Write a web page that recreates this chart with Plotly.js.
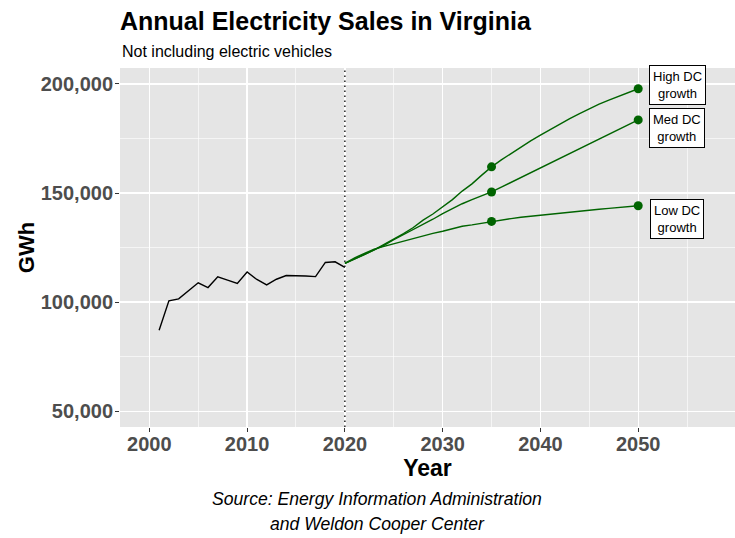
<!DOCTYPE html>
<html>
<head>
<meta charset="utf-8">
<script src="https://cdn.plot.ly/plotly-3.0.1.min.js"></script>
<style>
  html, body { margin: 0; padding: 0; background: #ffffff; }
  #chart { width: 735px; height: 538px; }
</style>
</head>
<body>
<div id="chart"></div>
<script>
// Historical sales (GWh)
const histYears = [2001, 2002, 2003, 2004, 2005, 2006, 2007, 2008, 2009, 2010,
                   2011, 2012, 2013, 2014, 2015, 2016, 2017, 2018, 2019, 2020];
const histSales = [87100, 100600, 101500, 105200, 108900, 106700, 111600, 110100, 108600, 113800,
                   110400, 107900, 110500, 112200, 112200, 112000, 111700, 118200, 118500, 115900];

// Projection years
const projYears = [2020, 2021, 2022, 2023, 2024, 2025, 2026, 2027, 2028, 2029,
                   2030, 2031, 2032, 2033, 2034, 2035, 2036, 2037, 2038, 2039,
                   2040, 2041, 2042, 2043, 2044, 2045, 2046, 2047, 2048, 2049, 2050];
const highDC = [117800, 119700, 121800, 124000, 126500, 128800, 131400, 134200, 137600, 140400,
                143600, 147000, 150900, 154200, 158200, 162000, 165200, 168200, 171100, 173900,
                176500, 179100, 181600, 184100, 186400, 188700, 190700, 192600, 194400, 196100, 197800];
const medDC  = [117800, 119800, 121800, 123800, 126000, 128600, 130900, 133100, 135600, 138000,
                140600, 142900, 145100, 147000, 148800, 150500, 152700, 154900, 157100, 159300,
                161400, 163600, 165800, 168000, 170200, 172400, 174600, 176800, 179100, 181300, 183500];
const lowDC  = [117800, 120300, 122400, 124300, 125600, 126800, 128000, 129200, 130600, 131500,
                132500, 133600, 134800, 135400, 136200, 137000, 137600, 138300, 138900, 139400,
                139900, 140400, 140900, 141400, 141800, 142200, 142600, 143000, 143400, 143800, 144200];

// Marker points (2035 and 2050)
const markerYears = [2035, 2050];
const highMarkers = [162000, 197800];
const medMarkers  = [150500, 183500];
const lowMarkers  = [137000, 144200];

const scenarioLabels = ["High DC<br>growth", "Med DC<br>growth", "Low DC<br>growth"];

const green = "#006400";
const font = "Liberation Sans, Arial, Helvetica, sans-serif";

const traces = [
  { x: histYears, y: histSales, type: "scatter", mode: "lines",
    line: { color: "#000000", width: 1.4 } },
  { x: projYears, y: highDC, type: "scatter", mode: "lines",
    line: { color: green, width: 1.4 } },
  { x: projYears, y: medDC, type: "scatter", mode: "lines",
    line: { color: green, width: 1.4 } },
  { x: projYears, y: lowDC, type: "scatter", mode: "lines",
    line: { color: green, width: 1.4 } },
  { x: markerYears, y: highMarkers, type: "scatter", mode: "markers",
    marker: { color: green, size: 9 } },
  { x: markerYears, y: medMarkers, type: "scatter", mode: "markers",
    marker: { color: green, size: 9 } },
  { x: markerYears, y: lowMarkers, type: "scatter", mode: "markers",
    marker: { color: green, size: 9 } }
];

const labelY = [199500, 179800, 138000];
const labelAnn = scenarioLabels.map((t, i) => ({
  x: 2054.0, y: labelY[i], xref: "x", yref: "y",
  text: t, showarrow: false,
  font: { family: font, size: 13, color: "#000000" },
  bgcolor: "#ffffff", bordercolor: "#000000", borderwidth: 1, borderpad: 3,
  xanchor: "center", yanchor: "middle"
}));

const layout = {
  width: 735, height: 538,
  margin: { l: 120, r: 0, t: 68, b: 111 },
  paper_bgcolor: "#ffffff",
  plot_bgcolor: "#e5e5e5",
  showlegend: false,
  title: {
    text: "<b>Annual Electricity Sales in Virginia</b>",
    font: { family: font, size: 25, color: "#000000" },
    xref: "paper", x: 0, xanchor: "left",
    yref: "container", y: 1 - 21 / 538, yanchor: "middle"
  },
  xaxis: {
    range: [1997.0, 2059.9],
    tick0: 2000, dtick: 10,
    showgrid: true, gridcolor: "#ffffff", gridwidth: 1.4,
    zeroline: false, showline: false,
    ticks: "outside", ticklen: 4, tickcolor: "#333333", tickwidth: 1,
    ticklabelstandoff: -5,
    tickfont: { family: font, size: 20, color: "#4d4d4d", weight: "bold" },
    minor: { tick0: 2000, dtick: 5, showgrid: true, gridcolor: "#ffffff", gridwidth: 0.6, ticklen: 0 },
    title: { text: "<b>Year</b>", font: { family: font, size: 23, color: "#000000" }, standoff: 4 }
  },
  yaxis: {
    range: [42800, 207300],
    tick0: 0, dtick: 50000,
    tickformat: ",d",
    showgrid: true, gridcolor: "#ffffff", gridwidth: 1.4,
    zeroline: false, showline: false,
    ticks: "outside", ticklen: 4, tickcolor: "#333333", tickwidth: 1,
    ticklabelstandoff: -2,
    tickfont: { family: font, size: 20, color: "#4d4d4d", weight: "bold" },
    minor: { tick0: 0, dtick: 25000, showgrid: true, gridcolor: "#ffffff", gridwidth: 0.6, ticklen: 0 },
    title: { text: "<b>GWh</b>", font: { family: font, size: 22, color: "#000000" }, standoff: 0 }
  },
  shapes: [{
    type: "line", xref: "x", yref: "paper",
    x0: 2020, x1: 2020, y0: 0, y1: 1,
    line: { color: "#000000", width: 1.3, dash: "1.5px,3.5px" }
  }],
  annotations: labelAnn.concat([
    { text: "Not including electric vehicles", showarrow: false,
      xref: "paper", x: 0, xanchor: "left",
      yref: "paper", y: 1 + (68 - 51) / 359, yanchor: "middle",
      font: { family: font, size: 16, color: "#000000" } },
    { text: "<i>Source: Energy Information Administration</i>", showarrow: false,
      xref: "paper", x: (377 - 120) / 615, xanchor: "center",
      yref: "paper", y: -(499 - 427) / 359, yanchor: "middle",
      font: { family: font, size: 17.6, color: "#000000" } },
    { text: "<i>and Weldon Cooper Center</i>", showarrow: false,
      xref: "paper", x: (377 - 120) / 615, xanchor: "center",
      yref: "paper", y: -(524 - 427) / 359, yanchor: "middle",
      font: { family: font, size: 17.6, color: "#000000" } }
  ])
};

Plotly.newPlot("chart", traces, layout, { displayModeBar: false, staticPlot: true });
</script>
</body>
</html>
